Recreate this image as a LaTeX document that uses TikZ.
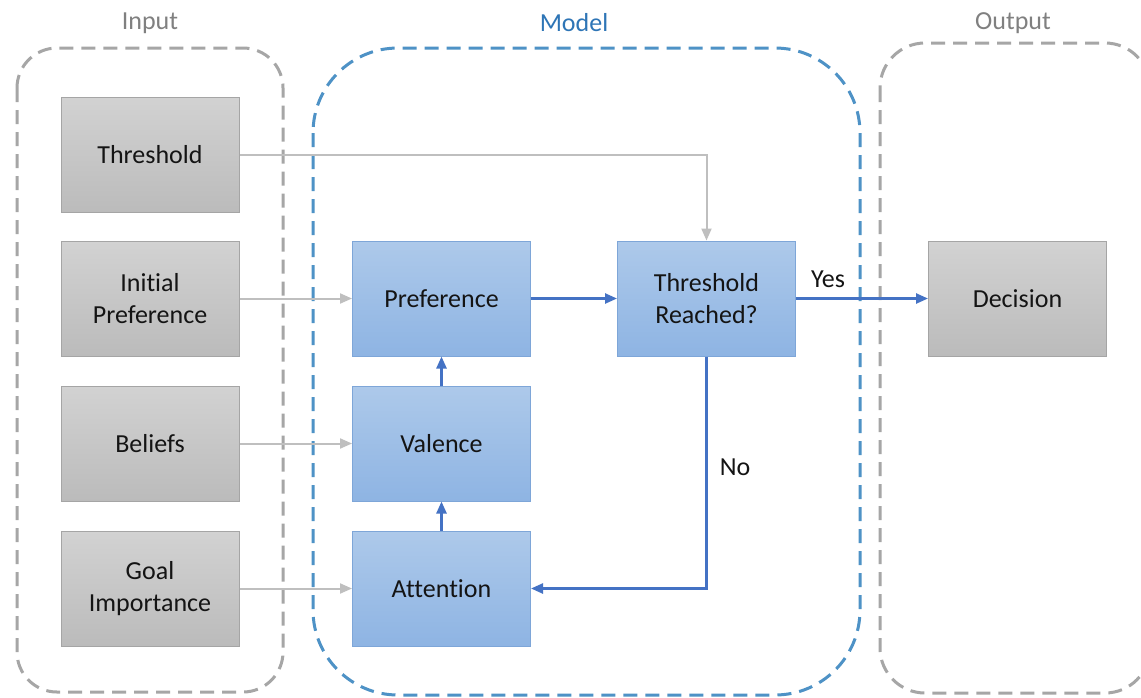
\documentclass[tikz,border=0pt]{standalone}
\usepackage{fontspec}
\setmainfont{Carlito}[Ligatures=NoCommon]
\usetikzlibrary{arrows.meta}
\definecolor{boxgraytop}{HTML}{D2D2D2}
\definecolor{boxgraybot}{HTML}{BBBBBB}
\definecolor{boxgrayline}{HTML}{A5A5A5}
\definecolor{boxbluetop}{HTML}{ADC9EA}
\definecolor{boxbluebot}{HTML}{8EB4E3}
\definecolor{boxblueline}{HTML}{7EA6D8}
\definecolor{flowblue}{HTML}{4472C4}
\definecolor{flowgray}{HTML}{BFBFBF}
\definecolor{framegray}{HTML}{A6A6A6}
\definecolor{frameblue}{HTML}{4E92C6}
\definecolor{titlegray}{HTML}{808080}
\definecolor{titleblue}{HTML}{2E75B6}
\definecolor{txt}{HTML}{141414}
\tikzset{
  every node/.style={font=\fontsize{26}{31.5}\selectfont, text=txt},
  inbox/.style={rectangle, minimum width=178pt, minimum height=115pt, inner sep=0pt,
    align=center, top color=boxgraytop, bottom color=boxgraybot, draw=boxgrayline, line width=1pt},
  modelbox/.style={rectangle, minimum width=178pt, minimum height=115pt, inner sep=0pt,
    align=center, top color=boxbluetop, bottom color=boxbluebot, draw=boxblueline, line width=1pt},
  frame/.style={line width=3pt, dash pattern=on 14pt off 8pt},
  title/.style={font=\fontsize{26}{31.5}\selectfont},
  grayflow/.style={draw=flowgray, line width=2pt, -{Triangle[length=12pt,width=10pt]}},
  blueflow/.style={draw=flowblue, line width=2.4pt, -{Triangle[length=12pt,width=10pt]}},
  lbl/.style={font=\fontsize{26}{31.5}\selectfont}
}
\begin{document}
\begin{tikzpicture}[x=1pt,y=-1pt]
\useasboundingbox (0,0) rectangle (1141,697);
\fill[white] (0,0) rectangle (1141,697);

% group frames
\draw[frame, draw=framegray, rounded corners=40pt] (17,48) rectangle (283,692);
\draw[frame, draw=frameblue, rounded corners=85pt] (313,48) rectangle (860,695);
\draw[frame, draw=framegray, rounded corners=45pt] (880,43) rectangle (1150,693);

\node[title, text=titlegray] (tin) at (150,23) {Input};
\node[title, text=titleblue] (tmodel) at (574,23) {Model};
\node[title, text=titlegray] (tout) at (1013,23) {Output};

% input boxes
\node[inbox] (thr) at (150,155) {Threshold};
\node[inbox] (ipref) at (150,298.5) {Initial\\Preference};
\node[inbox] (bel) at (150,443.5) {Beliefs};
\node[inbox] (goal) at (150,588.5) {Goal\\Importance};

% model boxes
\node[modelbox] (pref) at (441.5,298.5) {Preference};
\node[modelbox] (val) at (441.5,443.5) {Valence};
\node[modelbox] (att) at (441.5,588.5) {Attention};
\node[modelbox] (reach) at (706.5,298.5) {Threshold\\Reached?};

% output box
\node[inbox] (dec) at (1017.5,298.5) {Decision};

% inputs into the model
\draw[grayflow] (thr.east) -| (reach.north);
\draw[grayflow] (ipref.east) -- (pref.west);
\draw[grayflow] (bel.east) -- (val.west);
\draw[grayflow] (goal.east) -- (att.west);

% model flow
\draw[blueflow] (att.north) -- (val.south);
\draw[blueflow] (val.north) -- (pref.south);
\draw[blueflow] (pref.east) -- (reach.west);
\draw[blueflow] (reach.east) -- (dec.west);
\draw[blueflow] (reach.south) |- (att.east);

\node[lbl] (yes) at (828,279) {Yes};
\node[lbl] (no) at (735,467) {No};
\end{tikzpicture}
\end{document}
